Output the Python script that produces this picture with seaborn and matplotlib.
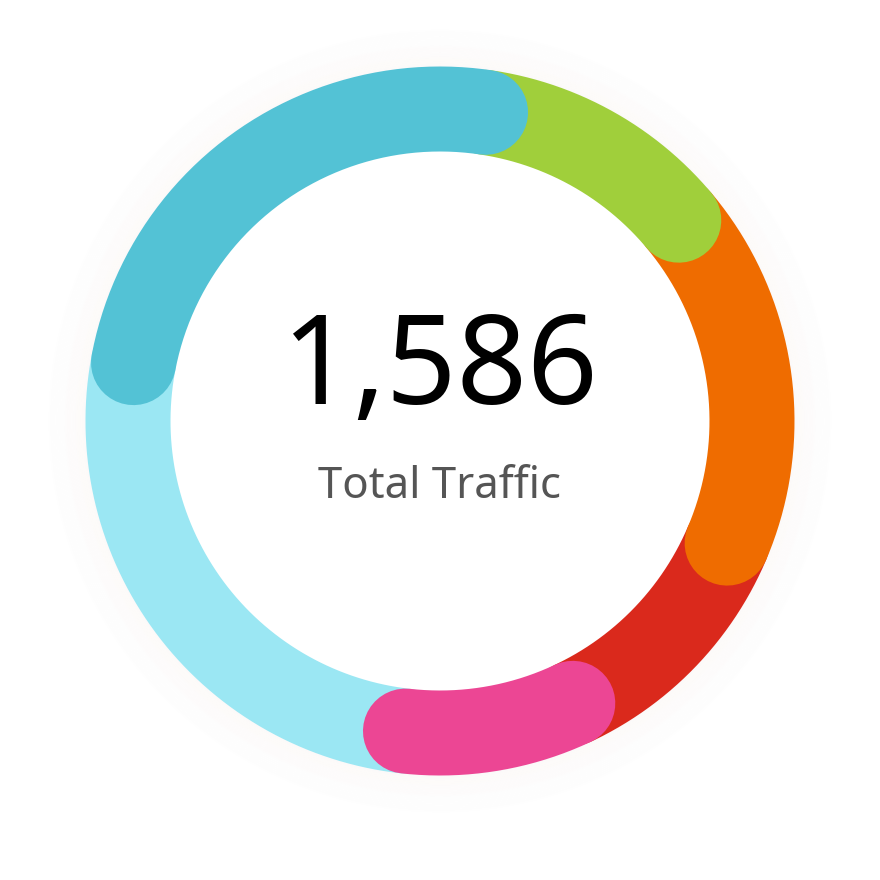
import numpy as np
import pandas as pd
import matplotlib
matplotlib.use('Agg')
import matplotlib.pyplot as plt
import seaborn as sns

# Datos del gráfico (orden horario desde arriba)
canales = ['Verde', 'Naranja', 'Rojo', 'Rosa', 'Celeste', 'Azul']
valores = [183, 278, 184, 139, 416, 386]
colores = ['#A0CF3B', '#EF6C00', '#DA291C', '#EC4694', '#9BE7F3', '#53C2D5']
orden_dibujo = ['Rojo', 'Naranja', 'Verde', 'Celeste', 'Rosa', 'Azul']
angulo_inicio = 8.4      # grados, sentido horario desde arriba
total_texto = '1,586'
subtitulo = 'Total Traffic'

sns.set_theme(style='white')
plt.rcParams['font.family'] = ['Noto Sans', 'DejaVu Sans']

fig = plt.figure(figsize=(8.8, 8.8), dpi=100)
ax = fig.add_axes([0, 0, 1, 1])
ax.set_xlim(0, 880)
ax.set_ylim(880, 0)
ax.set_aspect('equal')
ax.axis('off')

cx, cy = 440, 421
r_medio = 312
ancho_px = 85
ancho_pt = ancho_px * 72 / 100

# sombra suave alrededor del anillo
t = np.linspace(0, 2 * np.pi, 400)
n_capas = 40
for k in range(n_capas):
    r = r_medio + ancho_px / 2 - 6 + k * 1.8
    a = 0.018 * (1 - k / n_capas) ** 2.5
    ax.plot(cx + r * np.sin(t), cy - r * np.cos(t), color='#b87a4e',
            alpha=a, linewidth=2.5, zorder=0)

# límites de cada segmento
bordes = angulo_inicio + np.concatenate([[0], np.cumsum(valores)]) / np.sum(valores) * 360
tabla = pd.DataFrame({'canal': canales, 'ini': bordes[:-1], 'fin': bordes[1:], 'color': colores})

for z, nombre in enumerate(orden_dibujo):
    fila = tabla[tabla['canal'] == nombre].iloc[0]
    ang = np.radians(np.linspace(fila['ini'], fila['fin'], 200))
    arco = pd.DataFrame({'x': cx + r_medio * np.sin(ang), 'y': cy - r_medio * np.cos(ang)})
    sns.lineplot(data=arco, x='x', y='y', sort=False, estimator=None, ax=ax,
                 color=fila['color'], linewidth=ancho_pt, solid_capstyle='round',
                 zorder=2 + z)

ax.text(440, 372, total_texto, ha='center', va='center', fontsize=89, color='black', zorder=20)
ax.text(440, 487, subtitulo, ha='center', va='center', fontsize=31.5, color='#555555', zorder=20)

fig.savefig('out.png', dpi=100, facecolor='white')
